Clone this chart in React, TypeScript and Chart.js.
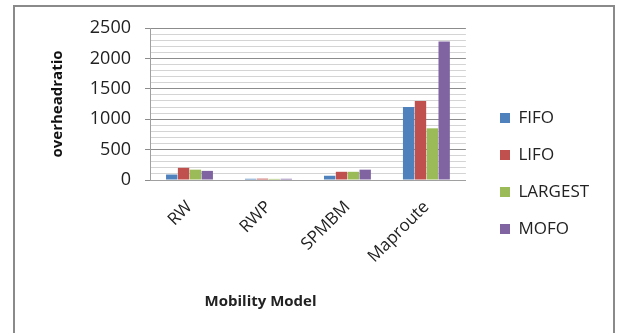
import React, { useEffect, useRef } from "react";
import { Chart, registerables } from "chart.js";

Chart.register(...registerables);

const categories = ["RW", "RWP", "SPMBM", "Maproute"];
const fifo = [90, 20, 70, 1200];
const lifo = [200, 22, 135, 1300];
const largest = [170, 18, 135, 850];
const mofo = [150, 20, 170, 2280];
const yMajorTicks = [0, 500, 1000, 1500, 2000, 2500];
const xTitle = "Mobility Model";

const FONT = "'Open Sans', 'DejaVu Sans', sans-serif";
const LEGEND_PAD = 20;

const borderPlugin = {
  id: "outerBorder",
  beforeDraw(chart: any) {
    const ctx = chart.ctx;
    ctx.save();
    ctx.fillStyle = "#ffffff";
    ctx.fillRect(0, 0, chart.width, chart.height);
    ctx.strokeStyle = "#8a8a8a";
    ctx.lineWidth = 2;
    ctx.strokeRect(14, 6, 600, 340);
    ctx.restore();
  },
  afterDraw(chart: any) {
    const ctx = chart.ctx;
    const x = chart.scales.x;
    ctx.save();
    ctx.fillStyle = "#222";
    ctx.font = `bold 15px ${FONT}`;
    ctx.textAlign = "center";
    ctx.textBaseline = "middle";
    ctx.fillText(xTitle, x.left + (x.right - x.left) * 0.35, 302);
    ctx.restore();
  },
};

const legendShiftPlugin = {
  id: "legendShift",
  afterLayout(chart: any) {
    const lg = chart.legend;
    if (!lg) return;
    const dx = 500 - (lg.left + LEGEND_PAD);
    const dy = 2;
    lg.left += dx;
    lg.right += dx;
    lg.top += dy;
    lg.bottom += dy;
  },
};

export default function App() {
  const ref = useRef<HTMLCanvasElement | null>(null);
  useEffect(() => {
    if (!ref.current) return;
    const isMajor = (v: number) => yMajorTicks.includes(v);
    const chart = new Chart(ref.current, {
      type: "bar",
      data: {
        labels: categories,
        datasets: [
          { label: "FIFO", data: fifo, backgroundColor: "#4F81BD" },
          { label: "LIFO", data: lifo, backgroundColor: "#C0504D" },
          { label: "LARGEST", data: largest, backgroundColor: "#9BBB59" },
          { label: "MOFO", data: mofo, backgroundColor: "#8064A2" },
        ],
      },
      options: {
        animation: false,
        responsive: false,
        maintainAspectRatio: false,
        datasets: { bar: { categoryPercentage: 0.6, barPercentage: 0.96 } },
        layout: { padding: { left: 49, top: 28, right: 36, bottom: 18 } },
        plugins: {
          tooltip: { enabled: false },
          legend: {
            position: "right",
            align: "center",
            labels: {
              boxWidth: 10,
              boxHeight: 10,
              padding: LEGEND_PAD,
              color: "#222",
              font: { family: FONT, size: 17 },
            },
          },
        },
        scales: {
          x: {
            grid: { display: false },
            border: { display: true, color: "#a0a0a0", width: 1 },
            ticks: {
              color: "#222",
              font: { family: FONT, size: 17 },
              maxRotation: 45,
              minRotation: 45,
              padding: 9,
            },
            afterFit(scale: any) {
              scale.height = 135;
            },
          },
          y: {
            min: 0,
            max: 2500,
            border: { display: true, color: "#a0a0a0", width: 1 },
            grid: {
              color: (c: any) => (isMajor(c.tick?.value) ? "#8c8c8c" : "#d4d4d4"),
              tickColor: (c: any) => (isMajor(c.tick?.value) ? "#8c8c8c" : "rgba(0,0,0,0)"),
              tickLength: 5,
            },
            ticks: {
              stepSize: 100,
              autoSkip: false,
              color: "#222",
              padding: 14,
              font: { family: FONT, size: 18 },
              callback: (v: any) => (isMajor(Number(v)) ? String(v) : ""),
            },
            title: {
              display: true,
              text: "overheadratio",
              color: "#111",
              font: { family: FONT, size: 15, weight: "bold" },
              padding: 0,
            },
            afterFit(scale: any) {
              scale.width = 101;
            },
          },
        },
      },
      plugins: [borderPlugin, legendShiftPlugin],
    } as any);
    return () => chart.destroy();
  }, []);
  return (
    <div style={{ position: "fixed", left: 0, top: 0, width: 621, height: 333, background: "#fff" }}>
      <canvas ref={ref} width={621} height={333} style={{ display: "block" }} />
    </div>
  );
}
